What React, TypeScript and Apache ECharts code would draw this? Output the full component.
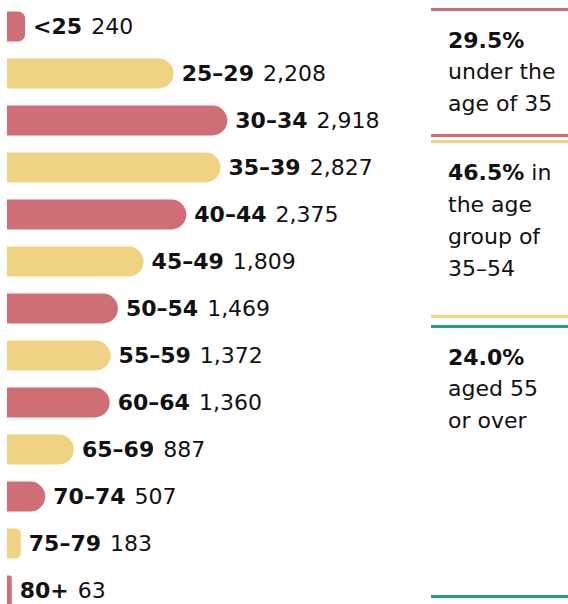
import React, { useEffect, useRef } from "react";
import * as echarts from "echarts";

const categories = ["<25", "25–29", "30–34", "35–39", "40–44", "45–49", "50–54", "55–59", "60–64", "65–69", "70–74", "75–79", "80+"];
const values = [240, 2208, 2918, 2827, 2375, 1809, 1469, 1372, 1360, 887, 507, 183, 63];
const RED = "#cf6e75";
const YELLOW = "#efd382";
const GREEN = "#2a9a80";
const FONT = "'DejaVu Sans', sans-serif";
const FS = 22;

const notes: { y: number; bold?: string; text?: string }[] = [
  { y: 40, bold: "29.5%" },
  { y: 71, text: "under the" },
  { y: 103, text: "age of 35" },
  { y: 172, bold: "46.5%", text: " in" },
  { y: 204, text: "the age" },
  { y: 236, text: "group of" },
  { y: 268, text: "35–54" },
  { y: 357, bold: "24.0%" },
  { y: 388, text: "aged 55" },
  { y: 420, text: "or over" },
];
const rules: { y: number; color: string }[] = [
  { y: 8, color: RED },
  { y: 134, color: RED },
  { y: 140, color: YELLOW },
  { y: 315, color: YELLOW },
  { y: 325, color: GREEN },
  { y: 595, color: GREEN },
];

const PX_PER_UNIT = 302 / 4000;

export default function App() {
  const ref = useRef<HTMLDivElement>(null);
  useEffect(() => {
    const chart = echarts.init(ref.current!, null, { renderer: "svg" });
    const graphic: any[] = [];
    rules.forEach((r) =>
      graphic.push({ type: "rect", left: 431, top: r.y, shape: { width: 137, height: 3 }, style: { fill: r.color } })
    );
    notes.forEach((n) => {
      const parts: string[] = [];
      if (n.bold) parts.push(`{b|${n.bold}}`);
      if (n.text) parts.push(`{r|${n.text}}`);
      graphic.push({
        type: "text",
        x: 448,
        y: n.y,
        style: {
          text: parts.join(""),
          verticalAlign: "middle",
          rich: {
            b: { fontFamily: FONT, fontWeight: "bold", fontSize: FS, fill: "#111" },
            r: { fontFamily: FONT, fontWeight: "normal", fontSize: FS, fill: "#111" },
          },
        },
      });
    });
    chart.setOption({
      animation: false,
      grid: { left: 7, top: 3, width: 302, height: 611, outerBoundsMode: "none", containLabel: false },
      xAxis: { type: "value", min: 0, max: 4000, show: false },
      yAxis: { type: "category", data: categories, inverse: true, show: false },
      series: [
        {
          type: "bar",
          data: values.map((v, i) => {
            const r = Math.min(15, v * PX_PER_UNIT * 0.4);
            return { value: v, itemStyle: { color: i % 2 === 0 ? RED : YELLOW, borderRadius: [0, r, r, 0] } };
          }),
          barWidth: 30,
          label: {
            show: true,
            position: "right",
            distance: 8,
            formatter: (p: any) => `{b|${categories[p.dataIndex]}}{r|${p.value.toLocaleString("en-US")}}`,
            rich: {
              b: { fontFamily: FONT, fontWeight: "bold", fontSize: FS, color: "#111" },
              r: { fontFamily: FONT, fontWeight: "normal", fontSize: FS, color: "#111", padding: [0, 0, 0, 9] },
            },
          },
        },
      ],
      graphic,
    });
    return () => chart.dispose();
  }, []);
  return <div ref={ref} style={{ position: "fixed", left: 0, top: 0, width: 568, height: 604, background: "#fff" }} />;
}
